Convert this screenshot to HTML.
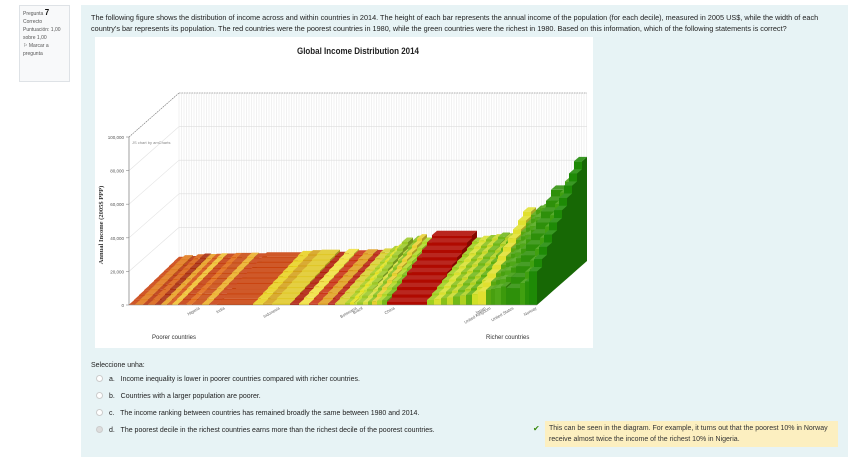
<!DOCTYPE html>
<html><head><meta charset="utf-8">
<style>
body{margin:0;width:848px;height:465px;background:#fff;font-family:"Liberation Sans",sans-serif;overflow:hidden;position:relative}
.abs{position:absolute}
.side{left:19px;top:5px;width:51px;height:77px;background:#f8f9fa;border:1px solid #dee2e6;box-sizing:border-box;font-size:5px;color:#555;padding:3px 3px;line-height:8px;white-space:nowrap}
.panel{left:81px;top:5px;width:767px;height:452px;background:#e7f3f5}
.q{left:91px;top:12px;font-size:7.3px;color:#222;line-height:11px;width:748px}
.opt{font-size:7px;color:#222;left:96px}
.radio{display:inline-block;width:5px;height:5px;border:1px solid #ccc;border-radius:50%;background:#fff;margin-right:6px;vertical-align:-1px}
</style></head><body>
<div class="abs side">Pregunta <b style="font-size:8px;color:#111">7</b><br>Correcto<br>Puntuación: 1,00<br>sobre 1,00<br><span>⚐ Marcar a<br>pregunta</span></div>
<div class="abs panel"></div>
<div class="abs q">The following figure shows the distribution of income across and within countries in 2014. The height of each bar represents the annual income of the population (for each decile), measured in 2005 US$, while the width of each country's bar represents its population. The red countries were the poorest countries in 1980, while the green countries were the richest in 1980. Based on this information, which of the following statements is correct?</div>
<svg class="abs" style="left:95px;top:37px" width="498" height="311" id="chart"></svg>
<div class="abs" style="left:91px;top:362px;font-size:7px;color:#222">Seleccione unha:</div>
<div class="abs opt" style="top:375px"><span class="radio"></span>a.&nbsp;&nbsp; Income inequality is lower in poorer countries compared with richer countries.</div>
<div class="abs opt" style="top:392px"><span class="radio"></span>b.&nbsp;&nbsp; Countries with a larger population are poorer.</div>
<div class="abs opt" style="top:409px"><span class="radio"></span>c.&nbsp;&nbsp; The income ranking between countries has remained broadly the same between 1980 and 2014.</div>
<div class="abs opt" style="top:426px"><span class="radio" style="background:#ddd"></span>d.&nbsp;&nbsp; The poorest decile in the richest countries earns more than the richest decile of the poorest countries.</div>
<div class="abs" style="left:533px;top:424px;font-size:8px;color:#3a8a10">✔</div>
<div class="abs" style="left:545px;top:421px;width:293px;height:26px;background:#fcefc0;font-size:7px;color:#333;line-height:11px;padding:2px 4px;box-sizing:border-box">This can be seen in the diagram. For example, it turns out that the poorest 10% in Norway receive almost twice the income of the richest 10% in Nigeria.</div>
<script>
const names=["","","","","","","","","","","Nigeria","","","India","","","Indonesia","","","","","","","","","Botswana","Brazil","","","","","","China","","","","","","","","","Japan","United Kingdom","","","","United States","","","Norway"];
const population=[6,8,5,7,6,6,5,6,8,6,10,7,8,36,10,9,18,9,10,9,10,7,10,5,4,3,6,5,4,5,5,5,40,7,7,6,6,7,6,6,6,8,5,4,6,5,14,5,4,8];
const lowIncome=[200,300,300,300,400,400,400,500,500,500,400,600,500,600,800,700,900,700,900,800,900,800,1000,1200,1500,1000,1500,1800,2000,2200,2500,2800,1800,3000,3500,4000,4500,5000,5500,6000,6500,8000,9000,9500,10000,11000,10000,13000,14000,20000];
const highIncome=[2500,3500,3000,4000,4500,4200,4300,4600,4500,4800,4800,5000,4600,5200,6000,6500,6800,5500,7200,6400,7000,6600,7500,9000,10000,12000,14000,11000,15000,16000,14000,13000,18000,14000,15000,15500,16000,17000,16500,18000,20000,32000,30000,33000,34000,38000,45000,50000,55000,62000];
const colors=["#c8400c","#e07818","#b83208","#d86010","#a82808","#e8a020","#d35012","#f0c030","#c43c0c","#e06a14","#c84a10","#ecb028","#c84010","#c9420c","#e8d020","#d4a018","#e0c828","#b01c08","#f0e040","#c83010","#e0a020","#b82010","#d8d030","#a8cc20","#e4e020","#c8e030","#9cc828","#d8e040","#88c020","#e8d030","#b0d828","#78b818","#b00a00","#a0d020","#d8e030","#88c018","#c8d828","#70b818","#b0d020","#60b010","#d0e028","#e0e030","#58a810","#48a010","#50a818","#3c9a0c","#2e900a","#40a010","#289008","#1e8a06"];
const yTicks=[0,20000,40000,60000,80000,100000];
const yTickLabels=["0","20,000","40,000","60,000","80,000","100,000"];
const NS="http://www.w3.org/2000/svg";
const svg=document.getElementById('chart');
const OX=95,OY=37;
const X0=129-OX,X1=537-OX,Y0=305-OY,PXV=168/100000,DX=50,DY=44,ROWS=10;
const totalPop=population.reduce((a,b)=>a+b,0);
function xScale(p){return X0+(X1-X0)*p/totalPop;}
function yH(v){return v*PXV;}
function el(t,a,p){const e=document.createElementNS(NS,t);for(const k in a)e.setAttribute(k,a[k]);(p||svg).appendChild(e);return e;}
function shade(c,f){const n=parseInt(c.slice(1),16);let r=n>>16,g=(n>>8)&255,b=n&255;
 if(f>1){r=r+(255-r)*(f-1);g=g+(255-g)*(f-1);b=b+(255-b)*(f-1);}else{r*=f;g*=f;b*=f;}
 return "rgb("+Math.round(r)+","+Math.round(g)+","+Math.round(b)+")";}
el('rect',{x:0,y:0,width:498,height:311,fill:'#fff'});
const title=el('text',{x:202,y:17,'font-size':9.5,'font-weight':'bold',fill:'#222',textLength:122,lengthAdjust:'spacingAndGlyphs'});
title.textContent="Global Income Distribution 2014";


const g=el('g',{});


for(let x=X0+DX;x<=X1+DX;x+=2.5)el('line',{x1:x,y1:Y0-DY-yH(100000),x2:x,y2:Y0-DY,stroke:'#e8e8e8','stroke-width':0.6},g);
yTicks.forEach((t,i)=>{const y=Y0-yH(t);
 el('line',{x1:X0,y1:y,x2:X0+DX,y2:y-DY,stroke:'#e2e2e2','stroke-width':0.6},g);
 if(i>0)el('line',{x1:X0+DX,y1:y-DY,x2:X1+DX,y2:y-DY,stroke:'#ddd','stroke-width':0.6},g);
 el('line',{x1:X0-3,y1:y,x2:X0,y2:y,stroke:'#888','stroke-width':0.6});
 const tl=el('text',{x:X0-5,y:y+2,'text-anchor':'end','font-size':4.5,fill:'#555'});tl.textContent=yTickLabels[i];
 
 });
el('line',{x1:X0,y1:Y0-yH(100000),x2:X0+DX,y2:Y0-yH(100000)-DY,stroke:'#777','stroke-width':0.6,'stroke-dasharray':'1.5,1'});
el('line',{x1:X0+DX,y1:Y0-yH(100000)-DY,x2:X1+DX,y2:Y0-yH(100000)-DY,stroke:'#777','stroke-width':0.6,'stroke-dasharray':'1.5,1'});
el('line',{x1:X0,y1:Y0,x2:X0,y2:Y0-yH(100000),stroke:'#777','stroke-width':0.7});
const cr=el('text',{x:X0+3,y:Y0-yH(100000)+7,'font-size':4,fill:'#888'});cr.textContent="JS chart by amCharts";
const yt=el('text',{transform:'translate(8,'+(Y0-80)+') rotate(-90)','text-anchor':'middle','font-size':6.5,'font-weight':'bold',fill:'#333','font-family':'Liberation Serif, serif'});
yt.textContent="Annual Income (2005$ PPP)";


const bars=el('g',{});


for(let k=ROWS-1;k>=0;k--){
 const ox=k*DX/ROWS,oy=-k*DY/ROWS,ddx=DX/ROWS,ddy=DY/ROWS;
 let cum=0;
 for(let i=0;i<population.length;i++){
  const xa=xScale(cum)+ox,xb=xScale(cum+population[i])+ox;cum+=population[i];
  const v=lowIncome[i]+(highIncome[i]-lowIncome[i])*k/(ROWS-1);
  const h=yH(v),yb=Y0+oy,yt2=yb-h,c=colors[i];
  const cg=el('g',{},bars);
  
  
  el('polygon',{points:`${xb},${yb} ${xb+ddx},${yb-ddy} ${xb+ddx},${yt2-ddy} ${xb},${yt2}`,fill:shade(c,0.75)},cg);
  el('polygon',{points:`${xa},${yt2} ${xb},${yt2} ${xb+ddx},${yt2-ddy} ${xa+ddx},${yt2-ddy}`,fill:shade(c,1.12)},cg);
  el('rect',{x:xa,y:yt2,width:Math.max(0.1,xb-xa),height:h,fill:c},cg);
 }
}
el('line',{x1:X0,y1:Y0,x2:X1,y2:Y0,stroke:'#888','stroke-width':0.6});
let cum=0;
for(let i=0;i<population.length;i++){const xs=xScale(cum),w=xScale(cum+population[i])-xs;cum+=population[i];
 if(names[i]){const t=el('text',{transform:`translate(${xs+Math.min(8,w)},${Y0+4}) rotate(-30)`,'text-anchor':'end','font-size':4.2,fill:'#666'});
  t.textContent=names[i];
  
  }}
const p1=el('text',{x:57,y:302,'font-size':6,fill:'#333'});p1.textContent="Poorer countries";


const p2=el('text',{x:391,y:302,'font-size':6,fill:'#333'});p2.textContent="Richer countries";


</script>
</body></html>
